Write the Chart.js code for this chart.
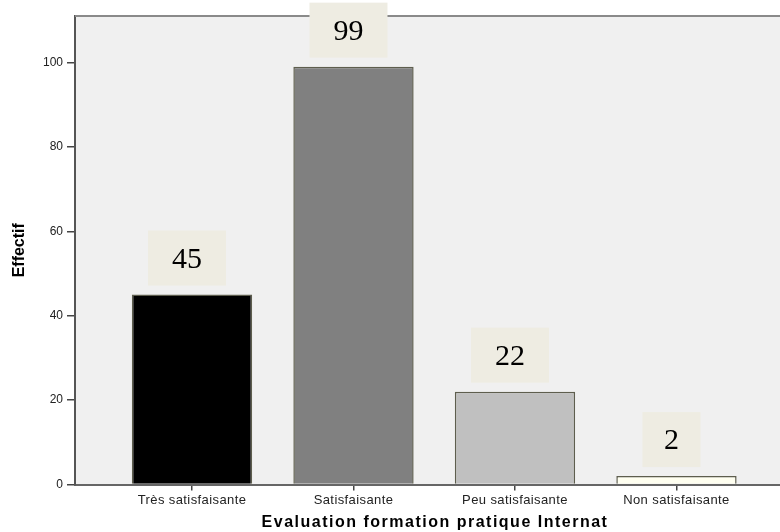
<!DOCTYPE html>
<html>
<head>
<meta charset="utf-8">
<script src="https://cdn.jsdelivr.net/npm/chart.js@4"></script>
<style>
  html, body { margin: 0; padding: 0; background: #fff; overflow: hidden; }
  #wrap { width: 780px; height: 532px; overflow: hidden; position: relative; }
  canvas { display: block; }
</style>
</head>
<body>
<div id="wrap"><canvas id="c" width="800" height="532"></canvas></div>
<script>
const categories = ['Très satisfaisante', 'Satisfaisante', 'Peu satisfaisante', 'Non satisfaisante'];
const counts = [45, 99, 22, 2];
const barColors = ['#000000', '#808080', '#c0c0c0', '#fffff0'];
const yTicks = [0, 20, 40, 60, 80, 100];
const xTitle = 'Evaluation formation pratique Internat';
const yTitle = 'Effectif';

const plotBg = {
  id: 'plotBg',
  beforeDraw(chart) {
    const {ctx, chartArea: a} = chart;
    ctx.save();
    ctx.fillStyle = '#f0f0f0';
    ctx.fillRect(a.left, a.top, a.right - a.left, a.bottom - a.top);
    ctx.restore();
  },
  beforeDatasetsDraw(chart) {
    const {ctx, chartArea: a} = chart;
    ctx.save();
    ctx.strokeStyle = '#8a8a8a';
    ctx.lineWidth = 2;
    ctx.beginPath();
    ctx.moveTo(a.left, a.top);
    ctx.lineTo(a.right + 10, a.top);
    ctx.stroke();
    ctx.restore();
  }
};

// widen text spacing of x tick labels and axis titles (reference text is slightly stretched)
function wrapSpacing(scale, method, spacing) {
  const key = '_ls_' + method;
  if (scale[key]) return;
  const orig = scale[method];
  scale[method] = function (...args) {
    const c = this.ctx;
    const prev = c.letterSpacing;
    c.letterSpacing = spacing;
    const r = orig.apply(this, args);
    c.letterSpacing = prev || '0px';
    return r;
  };
  scale[key] = true;
}
const textSpacing = {
  id: 'textSpacing',
  afterLayout(chart) {
    wrapSpacing(chart.scales.x, 'drawLabels', '0.4px');
    wrapSpacing(chart.scales.x, 'drawTitle', '1.5px');
  }
};

const valueBoxes = {
  id: 'valueBoxes',
  afterDatasetsDraw(chart) {
    const {ctx} = chart;
    const meta = chart.getDatasetMeta(0);
    ctx.save();
    meta.data.forEach((bar, i) => {
      const txt = String(counts[i]);
      const w = txt.length > 1 ? 78 : 58;
      const h = 55;
      const cx = bar.x - 5;
      const bottom = bar.y - 9;
      ctx.fillStyle = '#eeece2';
      ctx.fillRect(cx - w / 2, bottom - h, w, h);
      ctx.fillStyle = '#000';
      ctx.font = '30px "Liberation Serif", "Times New Roman", serif';
      ctx.textAlign = 'center';
      ctx.textBaseline = 'middle';
      ctx.fillText(txt, cx, bottom - h / 2 + 2);
    });
    ctx.restore();
  }
};

new Chart(document.getElementById('c'), {
  type: 'bar',
  data: {
    datasets: [{
      data: counts.map((v, i) => ({x: i, y: v})),
      backgroundColor: barColors,
      borderColor: '#5e5e4e',
      borderWidth: 1.5,
      barPercentage: 0.745,
      categoryPercentage: 1
    }]
  },
  options: {
    responsive: false,
    animation: false,
    devicePixelRatio: 1,
    layout: { padding: { top: 16, right: 5, left: 0, bottom: 0 } },
    plugins: { legend: { display: false }, tooltip: { enabled: false } },
    scales: {
      x: {
        type: 'linear',
        offset: false,
        min: -0.7245,
        max: 3.734,
        afterBuildTicks(scale) { scale.ticks = categories.map((_, i) => ({value: i})); },
        afterFit(scale) { scale.height = 47.5; },
        ticks: {
          autoSkip: false,
          maxRotation: 0,
          padding: 2,
          color: '#222',
          font: { family: '"Liberation Sans", Arial, sans-serif', size: 13 },
          callback: (v) => categories[v]
        },
        grid: { display: true, offset: false, drawOnChartArea: false, drawTicks: true, tickLength: 6, color: '#444', lineWidth: 1.5 },
        border: { display: true, color: '#666', width: 2 },
        title: {
          display: true,
          text: xTitle,
          color: '#000',
          padding: { top: 0, bottom: 0 },
          font: { family: '"Liberation Sans", Arial, sans-serif', size: 16, weight: 'bold' }
        }
      },
      y: {
        min: 0,
        max: 111,
        afterBuildTicks(scale) { scale.ticks = yTicks.map(v => ({value: v})); },
        afterFit(scale) { scale.width = 75; },
        ticks: {
          padding: 4,
          color: '#222',
          font: { family: '"Liberation Sans", Arial, sans-serif', size: 12 }
        },
        grid: { display: true, drawOnChartArea: false, drawTicks: true, tickLength: 8, color: '#444', lineWidth: 1.5 },
        border: { display: true, color: '#555', width: 2 },
        title: {
          display: true,
          text: yTitle,
          color: '#000',
          padding: { top: 9.5, bottom: 0 },
          font: { family: '"Liberation Sans", Arial, sans-serif', size: 16, weight: 'bold' }
        }
      }
    }
  },
  plugins: [plotBg, textSpacing, valueBoxes]
});
</script>
</body>
</html>
